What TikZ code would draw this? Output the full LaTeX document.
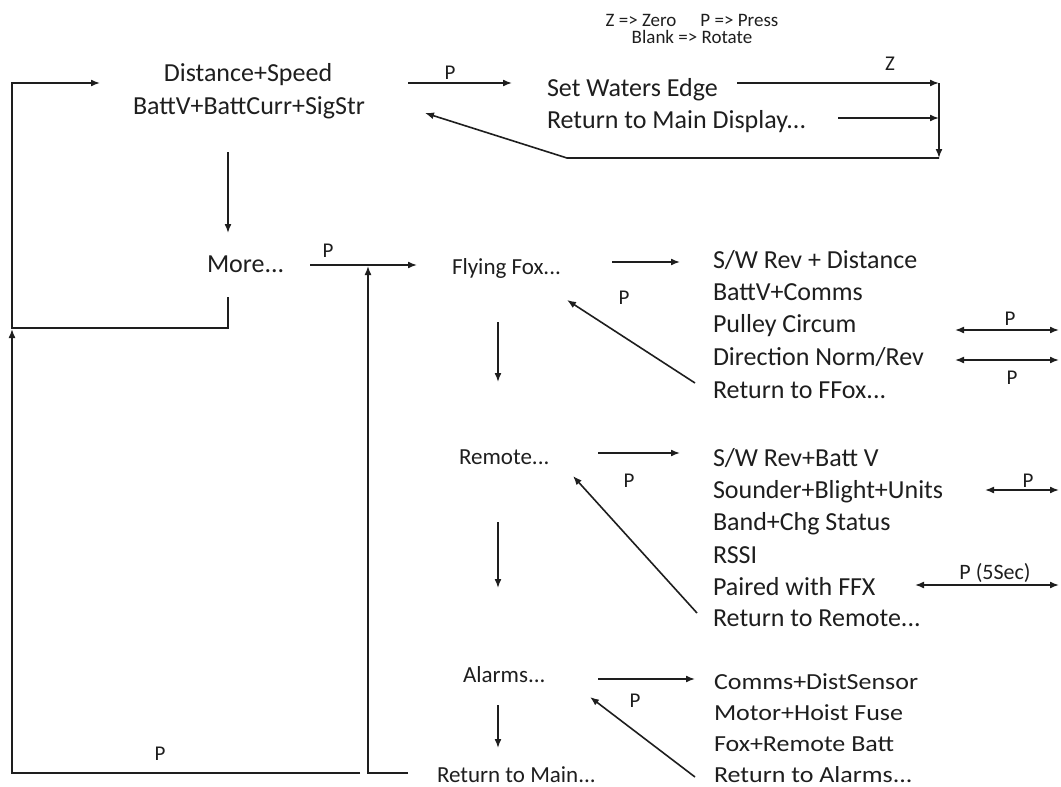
\documentclass[tikz,border=0pt]{standalone}
\usepackage{fontspec}
\setmainfont{Carlito}
\usepackage{graphicx}
\usetikzlibrary{arrows.meta}
\definecolor{ink}{RGB}{30,30,30}
\newcommand\widetxt[1]{\scalebox{1.13}[1]{#1}}
\begin{document}
\begin{tikzpicture}[x=1pt,y=-1pt,
  txt/.style={inner sep=0pt,outer sep=0pt,text=ink},
  big/.style={txt,font=\fontsize{26}{32}\selectfont},
  mid/.style={txt,font=\fontsize{23}{28}\selectfont},
  lbl/.style={txt,font=\fontsize{21}{25}\selectfont},
  leg/.style={txt,font=\fontsize{19}{17}\selectfont,align=center},
  conn/.style={draw=ink,line width=1.6pt},
  arr/.style={conn,-{Latex[length=9pt,width=7pt]}},
  darr/.style={conn,{Latex[length=9pt,width=7pt]}-{Latex[length=9pt,width=7pt]}},
]
\useasboundingbox (0,0) rectangle (1061,787);

% legend
\node[leg,anchor=north] (leg) at (692,14) {Z => Zero\hspace{24pt}P => Press\\Blank => Rotate};

% main display
\node[big,anchor=base] (main1) at (248,81) {Distance+Speed};
\node[big,anchor=base] (main2) at (249,114) {BattV+BattCurr+SigStr};
\node[big,anchor=base west] (sw1) at (547,96) {Set Waters Edge};
\node[big,anchor=base west] (sw2) at (547,128) {Return to Main Display...};
\node[big,anchor=base west] (more) at (207,272) {More...};

% sub menus
\node[mid,anchor=base west] (ff) at (452,274) {Flying Fox...};
\node[mid,anchor=base west] (remote) at (459,464) {Remote...};
\node[mid,anchor=base west] (alarms) at (463,682) {Alarms...};
\node[mid,anchor=base west] (retmain) at (437,782) {Return to Main...};

% flying fox list
\node[big,anchor=base west] (f1) at (713,268) {S/W Rev + Distance};
\node[big,anchor=base west] (f2) at (713,300) {BattV+Comms};
\node[big,anchor=base west] (f3) at (713,332) {Pulley Circum};
\node[big,anchor=base west] (f4) at (713,365) {Direction Norm/Rev};
\node[big,anchor=base west] (f5) at (713,398) {Return to FFox...};

% remote list
\node[big,anchor=base west] (r1) at (713,466) {S/W Rev+Batt V};
\node[big,anchor=base west] (r2) at (713,498) {Sounder+Blight+Units};
\node[big,anchor=base west] (r3) at (713,530) {Band+Chg Status};
\node[big,anchor=base west] (r4) at (713,563) {RSSI};
\node[big,anchor=base west] (r5) at (713,595) {Paired with FFX};
\node[big,anchor=base west] (r6) at (713,626) {Return to Remote...};

% alarms list
\node[mid,anchor=base west] (a1) at (714,689) {\widetxt{Comms+DistSensor}};
\node[mid,anchor=base west] (a2) at (714,720) {\widetxt{Motor+Hoist Fuse}};
\node[mid,anchor=base west] (a3) at (714,751) {\widetxt{Fox+Remote Batt}};
\node[mid,anchor=base west] (a4) at (714,782) {\widetxt{Return to Alarms...}};

% labels
\node[lbl,anchor=base] (pmain) at (450,79) {P};
\node[lbl,anchor=base] (zlbl) at (890,70) {Z};
\node[lbl,anchor=base] (pmore) at (328,257) {P};
\node[lbl,anchor=base] (pff) at (624,304) {P};
\node[lbl,anchor=base] (prem) at (629,487) {P};
\node[lbl,anchor=base] (palm) at (635,707) {P};
\node[lbl,anchor=base] (pbot) at (160,760) {P};
\node[lbl,anchor=base] (ppul) at (1010,325) {P};
\node[lbl,anchor=base] (pdir) at (1012,384) {P};
\node[lbl,anchor=base] (psnd) at (1028,487) {P};
\node[lbl,anchor=base,font=\fontsize{22}{26}\selectfont] (ppair) at (995,579) {P (5Sec)};

% coordinates
\coordinate (bl0) at (360,773);
\coordinate (blc) at (12,773);
\coordinate (bltip) at (12,329);
\coordinate (mo0) at (228,297);
\coordinate (mo1) at (228,328);
\coordinate (mo2) at (12,328);
\coordinate (tl) at (12,83);
\coordinate (tltip) at (100,83);
\coordinate (ms0) at (408,83);
\coordinate (ms1) at (512,83);
\coordinate (z0) at (737,83);
\coordinate (z1) at (939,83);
\coordinate (rd0) at (838,118);
\coordinate (rd1) at (939,118);
\coordinate (vb) at (939,158);
\coordinate (hb) at (567,158);
\coordinate (rtip) at (425,113);
\coordinate (md0) at (228,152);
\coordinate (md1) at (228,233);
\coordinate (mf0) at (310,265);
\coordinate (mf1) at (417,265);
\coordinate (rm0) at (408,773);
\coordinate (rm1) at (368,773);
\coordinate (rm2) at (368,266);
\coordinate (ffo0) at (612,262);
\coordinate (ffo1) at (680,262);
\coordinate (ffb0) at (695,383);
\coordinate (ffb1) at (567,300);
\coordinate (ffd0) at (498,322);
\coordinate (ffd1) at (498,382);
\coordinate (reo0) at (598,453);
\coordinate (reo1) at (680,453);
\coordinate (reb0) at (697,613);
\coordinate (reb1) at (573,476);
\coordinate (red0) at (498,522);
\coordinate (red1) at (498,588);
\coordinate (alo0) at (598,679);
\coordinate (alo1) at (695,679);
\coordinate (alb0) at (695,777);
\coordinate (alb1) at (590,697);
\coordinate (ald0) at (498,705);
\coordinate (ald1) at (498,748);
\coordinate (pu0) at (955,330);
\coordinate (pu1) at (1059,330);
\coordinate (di0) at (955,360);
\coordinate (di1) at (1059,360);
\coordinate (so0) at (985,490);
\coordinate (so1) at (1059,490);
\coordinate (pa0) at (915,585);
\coordinate (pa1) at (1059,585);

% connectors
\draw[arr] (bl0) -- (blc) -- (bltip);
\draw[arr] (mo0) -- (mo1) -- (mo2) -- (tl) -- (tltip);
\draw[arr] (ms0) -- (ms1);
\draw[arr] (z0) -- (z1);
\draw[arr] (rd0) -- (rd1);
\draw[arr] (z1) -- (vb);
\draw[arr] (vb) -- (hb) -- (rtip);
\draw[arr] (md0) -- (md1);
\draw[arr] (mf0) -- (mf1);
\draw[arr] (rm0) -- (rm1) -- (rm2);
\draw[arr] (ffo0) -- (ffo1);
\draw[arr] (ffb0) -- (ffb1);
\draw[arr] (ffd0) -- (ffd1);
\draw[arr] (reo0) -- (reo1);
\draw[arr] (reb0) -- (reb1);
\draw[arr] (red0) -- (red1);
\draw[arr] (alo0) -- (alo1);
\draw[arr] (alb0) -- (alb1);
\draw[arr] (ald0) -- (ald1);
\draw[darr] (pu0) -- (pu1);
\draw[darr] (di0) -- (di1);
\draw[darr] (so0) -- (so1);
\draw[darr] (pa0) -- (pa1);
\end{tikzpicture}
\end{document}
